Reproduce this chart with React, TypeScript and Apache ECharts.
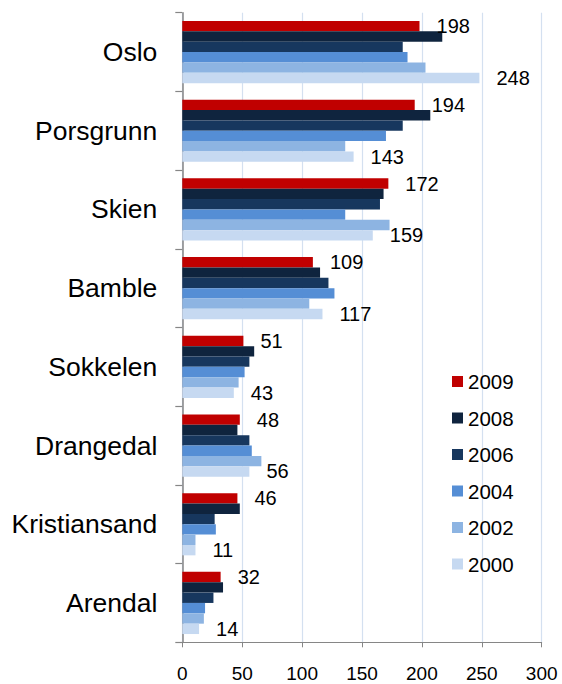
import React, { useEffect, useRef } from "react";
import * as echarts from "echarts";

const categories = ["Oslo", "Porsgrunn", "Skien", "Bamble", "Sokkelen", "Drangedal", "Kristiansand", "Arendal"];
const seriesNames = ["2009", "2008", "2006", "2004", "2002", "2000"];
const v2009 = [198, 194, 172, 109, 51, 48, 46, 32];
const v2008 = [217, 207, 168, 115, 60, 46, 48, 34];
const v2006 = [184, 184, 165, 122, 56, 56, 27, 26];
const v2004 = [188, 170, 136, 127, 52, 58, 28, 19];
const v2002 = [203, 136, 173, 106, 47, 66, 11, 18];
const v2000 = [248, 143, 159, 117, 43, 56, 11, 14];
const seriesValues = [v2009, v2008, v2006, v2004, v2002, v2000];
const colors = ["#C00000", "#0F243E", "#17375E", "#558ED5", "#8DB4E2", "#C6D9F1"];
const labelled = ["2009", "2000"];
const xTicks = { min: 0, max: 300, interval: 50 };

const FONT = "'Liberation Sans', Arial, sans-serif";

export default function App() {
  const ref = useRef<HTMLDivElement>(null);
  useEffect(() => {
    if (!ref.current) return;
    const chart = echarts.init(ref.current, null, { renderer: "svg" });
    chart.setOption({
      animation: false,
      backgroundColor: "#ffffff",
      textStyle: { fontFamily: FONT },
      grid: {
        left: 182.3,
        right: 20.3,
        top: 12.7,
        bottom: 41.7,
        containLabel: false,
        outerBoundsMode: "none",
      },
      legend: {
        orient: "vertical",
        left: 447,
        top: 366,
        padding: 5,
        itemWidth: 11,
        itemHeight: 11,
        itemGap: 15.5,
        icon: "rect",
        data: seriesNames,
        textStyle: { fontSize: 20.5, color: "#000", fontFamily: FONT, lineHeight: 20 },
      },
      xAxis: {
        type: "value",
        min: xTicks.min,
        max: xTicks.max,
        interval: xTicks.interval,
        axisLine: { show: true, lineStyle: { color: "#868686", width: 1 } },
        axisTick: { show: true, length: 5, lineStyle: { color: "#868686" } },
        axisLabel: { fontSize: 19, lineHeight: 14, color: "#000", margin: 24.5, fontFamily: FONT },
        splitLine: { show: true, lineStyle: { color: "#D4E0F0", width: 1.2 } },
      },
      yAxis: {
        type: "category",
        data: categories,
        inverse: true,
        axisLine: { show: true, lineStyle: { color: "#868686", width: 1.5 } },
        axisTick: { show: true, length: 7, lineStyle: { color: "#868686", width: 1.2 } },
        axisLabel: { fontSize: 26.5, color: "#000", margin: 25, fontFamily: FONT },
        splitLine: { show: false },
      },
      series: seriesNames.map((name, i) => ({
        name,
        type: "bar",
        data: seriesValues[i],
        barGap: "0%",
        barCategoryGap: "21%",
        itemStyle: { color: colors[i] },
        label: {
          show: labelled.includes(name),
          position: "right",
          distance: 17,
          fontSize: 20,
          color: "#000",
          fontFamily: FONT,
        },
      })),
    });
    return () => chart.dispose();
  }, []);
  return (
    <div
      ref={ref}
      style={{ position: "fixed", left: 0, top: 0, width: 562, height: 684 }}
    />
  );
}
